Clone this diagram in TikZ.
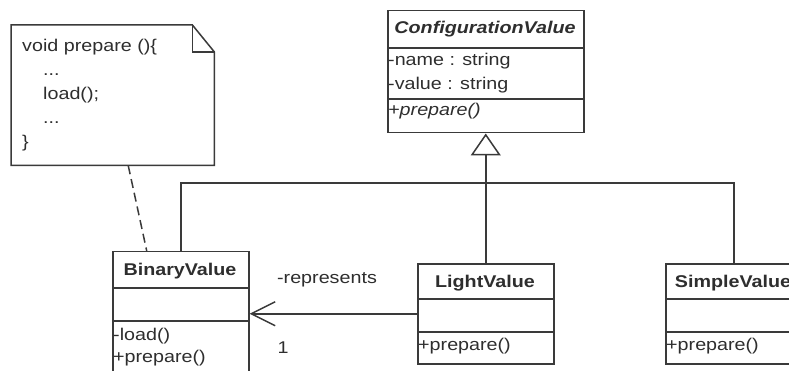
\documentclass[tikz,border=0pt]{standalone}
\usepackage{fontspec}
\setmainfont{Liberation Sans}[FakeStretch=1.16]
\usetikzlibrary{arrows.meta}
\definecolor{lc}{HTML}{3A3A3A}
\definecolor{tc}{HTML}{2E2E2E}
\begin{document}
\begin{tikzpicture}[x=1pt,y=-1pt,
  ln/.style={draw=lc, line width=1.5pt},
  box/.style={ln, inner sep=0pt, anchor=north west, fill=white},
  txt/.style={inner sep=0pt, text=tc, font=\fontsize{17}{20}\selectfont},
  lt/.style={txt, anchor=base west},
  ttl/.style={txt, anchor=base, font=\fontsize{17}{20}\selectfont\bfseries}]
\clip (0,0) rectangle (789,371);
\fill[white] (0,0) rectangle (789,371);

% note
\node[inner sep=0pt, minimum width=203pt, minimum height=140pt, anchor=north west] (note) at (11,25) {};
\draw[ln, fill=white, line join=miter] (note.south west) -- (note.north west) -- ([xshift=-22pt]note.north east)
  -- ([yshift=-27pt]note.north east) -- (note.south east) -- cycle;
\draw[ln] ([xshift=-22pt]note.north east) |- ([yshift=-27pt]note.north east);
\node[lt] (n1) at (22,52) {void prepare ()\{};
\node[lt] (n2) at (43,76) {...};
\node[lt] (n3) at (43,100) {load();};
\node[lt] (n4) at (43,124) {...};
\node[lt] (n5) at (22,148) {\}};

% ConfigurationValue
\node[box, minimum width=196pt, minimum height=122pt] (cfg) at (387,10) {};
\draw[ln] ([yshift=-38pt]cfg.north west) -- ([yshift=-38pt]cfg.north east);
\draw[ln] ([yshift=-89pt]cfg.north west) -- ([yshift=-89pt]cfg.north east);
\node[ttl] (cfgt) at (485,34) {\itshape ConfigurationValue};
\node[lt] (cfga1) at (388,66) {-name : string};
\node[lt] (cfga2) at (388,90) {-value : string};
\node[lt] (cfgm1) at (388,116) {\itshape +prepare()};

% BinaryValue
\node[box, minimum width=136pt, minimum height=130pt] (bin) at (112,251) {};
\draw[ln] ([yshift=-37pt]bin.north west) -- ([yshift=-37pt]bin.north east);
\draw[ln] ([yshift=-70pt]bin.north west) -- ([yshift=-70pt]bin.north east);
\node[ttl] (bint) at (180,276) {BinaryValue};
\node[lt] (binm1) at (113,340) {-load()};
\node[lt] (binm2) at (113,362) {+prepare()};

% LightValue
\node[box, minimum width=136pt, minimum height=100pt] (light) at (417,263) {};
\draw[ln] ([yshift=-36pt]light.north west) -- ([yshift=-36pt]light.north east);
\draw[ln] ([yshift=-69pt]light.north west) -- ([yshift=-69pt]light.north east);
\node[ttl] (lightt) at (485,287) {LightValue};
\node[lt] (lightm) at (418,350) {+prepare()};

% SimpleValue
\node[box, minimum width=136pt, minimum height=100pt] (simp) at (665,263) {};
\draw[ln] ([yshift=-36pt]simp.north west) -- ([yshift=-36pt]simp.north east);
\draw[ln] ([yshift=-69pt]simp.north west) -- ([yshift=-69pt]simp.north east);
\node[ttl] (simpt) at (733,287) {SimpleValue};
\node[lt] (simpm) at (666,350) {+prepare()};

% generalization
\coordinate (j) at (485,183);
\draw[ln] (bin.north) |- (j) -| (simp.north);
\draw[ln, -{Triangle[open, length=22pt, width=30pt, line width=1.5pt]}] (light.north) -- (cfg.south);

% association
\draw[ln, -{Straight Barb[length=24pt, width=24pt, line width=1.5pt]}] (light.west) -- (bin.east |- light.west);
\node[txt, anchor=base] (rep) at (327,283) {-represents};
\node[txt, anchor=base] (mult) at (283,353) {1};

% note link
\draw[ln, dash pattern=on 9pt off 5pt] ([xshift=15.5pt]note.south) -- ([xshift=-34pt]bin.north);
\end{tikzpicture}
\end{document}
